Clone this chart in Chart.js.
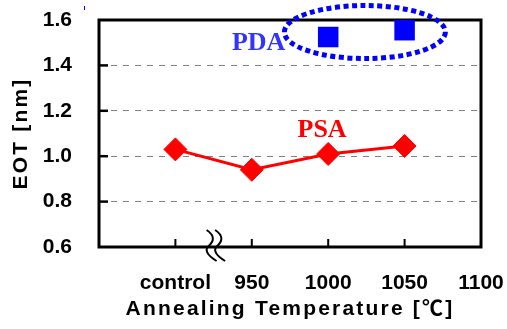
<!DOCTYPE html>
<html>
<head>
<meta charset="utf-8">
<script src="https://cdn.jsdelivr.net/npm/chart.js@4.4.0/dist/chart.umd.min.js"></script>
<style>
  html, body { margin: 0; padding: 0; background: #fff; }
  #wrap { width: 507px; height: 329px; }
</style>
</head>
<body>
<div id="wrap"><canvas id="eot" width="507" height="329"></canvas></div>
<script>
/* ======================================================
   Data
====================================================== */

const xTickValues = [900, 950, 1000, 1050, 1100];
const xTickLabels = ['control', '950', '1000', '1050', '1100'];
const yTickValues = [0.6, 0.8, 1.0, 1.2, 1.4, 1.6];

const psaTemps = [900, 950, 1000, 1050];
const psaEot   = [1.03, 0.94, 1.01, 1.045];

const pdaTemps = [1000, 1050];
const pdaEot   = [1.525, 1.555];

const RED  = '#ff0000';
const BLUE = '#0000ff';
const SANS = 'Arial, "Liberation Sans", "Noto Sans CJK JP", sans-serif';
const SERIF = '"Times New Roman", "Liberation Serif", serif';


/* ======================================================
   Decorations (frame, inner ticks, ellipse, labels, break)
====================================================== */

const decorations = {
  id: 'decorations',

  beforeDraw(chart) {
    // axis titles in the original are letter-spaced
    [chart.scales.x, chart.scales.y].forEach(s => {
      if (s._spaced) return;
      const orig = s.drawTitle;
      s.drawTitle = function () {
        this.ctx.letterSpacing = '2.2px';
        orig.call(this);
        this.ctx.letterSpacing = '0px';
      };
      s._spaced = true;
    });
  },

  beforeDatasetsDraw(chart) {
    const { ctx, chartArea: a, scales: { x, y } } = chart;
    ctx.save();
    ctx.strokeStyle = '#000';

    // inner tick marks
    ctx.lineWidth = 2.5;
    yTickValues.slice(1, -1).forEach(v => {
      const py = y.getPixelForValue(v);
      ctx.beginPath();
      ctx.moveTo(a.left, py);
      ctx.lineTo(a.left + 9, py);
      ctx.stroke();
    });
    ctx.lineWidth = 2;
    xTickValues.slice(0, -1).forEach(v => {
      const px = x.getPixelForValue(v);
      ctx.beginPath();
      ctx.moveTo(px, a.bottom);
      ctx.lineTo(px, a.bottom - 8);
      ctx.stroke();
    });

    // box
    ctx.lineWidth = 3;
    ctx.strokeRect(a.left, a.top, a.right - a.left, a.bottom - a.top);

    // axis break between control and 950
    const bx = x.getPixelForValue(925) - 7;
    ctx.lineWidth = 2;
    [0, 8.5].forEach(dx => {
      const x0 = bx + dx;
      ctx.beginPath();
      ctx.moveTo(x0, a.bottom - 17);
      ctx.quadraticCurveTo(x0 + 12, a.bottom - 9, x0 + 1, a.bottom);
      ctx.quadraticCurveTo(x0 - 3, a.bottom + 6, x0 + 10, a.bottom + 14);
      ctx.stroke();
    });

    ctx.restore();
  },

  afterDatasetsDraw(chart) {
    const { ctx, scales: { x, y } } = chart;
    ctx.save();

    // dotted ellipse round the PDA points
    ctx.strokeStyle = BLUE;
    ctx.lineWidth = 5;
    ctx.setLineDash([5, 3.5]);
    ctx.beginPath();
    ctx.ellipse(x.getPixelForValue(1024), y.getPixelForValue(1.547), 80.5, 26.5, 0, 0, Math.PI * 2);
    ctx.stroke();
    ctx.setLineDash([]);

    // series labels
    ctx.font = 'bold 26px ' + SERIF;
    ctx.textAlign = 'center';
    ctx.textBaseline = 'middle';
    ctx.fillStyle = '#3333ff';
    ctx.fillText('PDA', x.getPixelForValue(954.5), y.getPixelForValue(1.499));
    ctx.fillStyle = RED;
    ctx.fillText('PSA', x.getPixelForValue(996), y.getPixelForValue(1.115));

    // small stray mark above the axis
    ctx.fillStyle = BLUE;
    ctx.fillRect(84, 6, 1, 4);

    ctx.restore();
  }
};


/* ======================================================
   Chart
====================================================== */

new Chart(document.getElementById('eot').getContext('2d'), {
  type: 'scatter',
  data: {
    datasets: [
      {
        label: 'PSA',
        data: psaTemps.map((t, i) => ({ x: t, y: psaEot[i] })),
        showLine: true,
        borderColor: RED,
        backgroundColor: RED,
        borderWidth: 3,
        pointStyle: 'rectRot',
        pointRadius: 11.5,
        pointBorderWidth: 1,
        clip: false
      },
      {
        label: 'PDA',
        data: pdaTemps.map((t, i) => ({ x: t, y: pdaEot[i] })),
        showLine: false,
        borderColor: BLUE,
        backgroundColor: BLUE,
        pointStyle: 'rect',
        pointRadius: 14.5,
        pointBorderWidth: 0,
        clip: false
      }
    ]
  },
  options: {
    responsive: false,
    animation: false,
    devicePixelRatio: 1,
    layout: { padding: { top: 20, right: 26, left: 0, bottom: 0 } },
    plugins: { legend: { display: false }, tooltip: { enabled: false } },
    scales: {
      x: {
        type: 'linear',
        min: 850,
        max: 1100,
        afterBuildTicks: s => { s.ticks = xTickValues.map(v => ({ value: v })); },
        afterFit: s => { s.height = 82; },
        grid: { drawOnChartArea: false, drawTicks: true, tickLength: 24, tickColor: 'rgba(0,0,0,0)' },
        border: { display: false },
        ticks: {
          autoSkip: false,
          maxRotation: 0,
          padding: 0,
          color: '#000',
          font: { family: SANS, size: 21, weight: 'bold' },
          callback: v => xTickLabels[xTickValues.indexOf(v)]
        },
        title: {
          display: true,
          text: 'Annealing Temperature [℃]',
          color: '#000',
          font: { family: SANS, size: 21, weight: 'bold' },
          padding: { bottom: 7 }
        }
      },
      y: {
        min: 0.6,
        max: 1.6,
        afterBuildTicks: s => { s.ticks = yTickValues.map(v => ({ value: v })); },
        afterFit: s => { s.width = 99; },
        grid: {
          drawTicks: true,
          tickLength: 27,
          tickColor: 'rgba(0,0,0,0)',
          lineWidth: 1,
          color: c => (c.tick && c.tick.value > 0.65 && c.tick.value < 1.55) ? '#808080' : 'rgba(0,0,0,0)'
        },
        border: { display: false, dash: [6, 6] },
        ticks: {
          padding: 0,
          color: '#000',
          font: { family: SANS, size: 21, weight: 'bold' },
          callback: v => v.toFixed(1)
        },
        title: {
          display: true,
          text: 'EOT [nm]',
          color: '#000',
          font: { family: SANS, size: 21, weight: 'bold' },
          padding: { top: 9 }
        }
      }
    }
  },
  plugins: [decorations]
});
</script>
</body>
</html>
